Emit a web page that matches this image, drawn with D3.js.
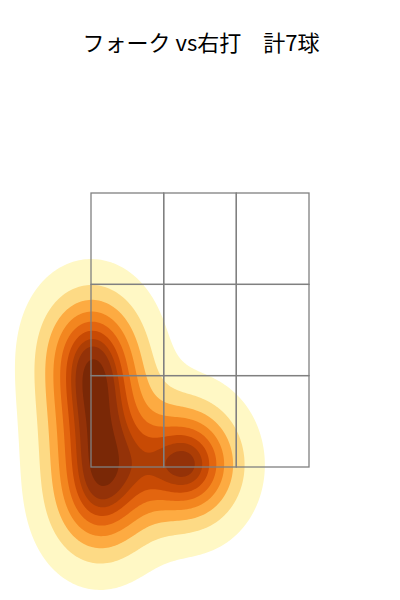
<!DOCTYPE html>
<html>
<head>
<meta charset="utf-8">
<script src="https://cdn.jsdelivr.net/npm/d3@7"></script>
<style>
html,body{margin:0;padding:0;background:#fff;}
svg{display:block;}
</style>
</head>
<body>
<svg id="chart" width="400" height="600"></svg>
<script>
// pitch locations (feet): horizontal plate position and height
const plateX = [-0.86, -0.83, -0.82, -0.79, -0.79, -0.12, -0.08];
const plateZ = [2.46, 2.19, 1.84, 1.48, 1.17, 1.58, 1.48];
// strike zone grid (feet)
const zoneX = [-0.85, -0.283, 0.283, 0.85];
const zoneZ = [1.5, 2.167, 2.833, 3.5];
const title = "フォーク vs右打　計7球";
const isoLevels = d3.range(10).map(i => 0.05 + i * (0.95 / 9));
const bandColors = ["#fff8c5", "#fdda85", "#fdab42", "#f3861f", "#e3650f", "#c84a04", "#ad3e05", "#943208", "#7a2806"];

const W = 400, H = 600;
const svg = d3.select("#chart");
const x = d3.scaleLinear().domain([-0.85, 0.85]).range([91, 309]);
const y = d3.scaleLinear().domain([1.5, 3.5]).range([467, 193]);
const bwX = 0.28, bwZ = 0.305; // kernel bandwidth (feet)

const pts = plateX.map((v, i) => [x(v), y(plateZ[i])]);
const sx = Math.abs(x(bwX) - x(0)), sy = Math.abs(y(bwZ) - y(0));

const cs = 2, gx0 = -200, gy0 = -200;
const gw = Math.ceil((W + 400) / cs), gh = Math.ceil((H + 400) / cs);
const values = new Float64Array(gw * gh);
for (let j = 0; j < gh; j++) {
  const py = gy0 + j * cs;
  for (let i = 0; i < gw; i++) {
    const px = gx0 + i * cs;
    let s = 0;
    for (const [a, b] of pts) {
      const dx = (px - a) / sx, dy = (py - b) / sy;
      s += Math.exp(-0.5 * (dx * dx + dy * dy));
    }
    values[i + j * gw] = s;
  }
}
// iso-proportion levels
const sorted = Array.from(values).sort((a, b) => b - a);
const total = d3.sum(sorted);
const cum = new Float64Array(sorted.length);
let acc = 0;
for (let k = 0; k < sorted.length; k++) { acc += sorted[k]; cum[k] = acc / total; }
const levels = isoLevels.map(q => sorted[Math.min(d3.bisectLeft(cum, 1 - q), sorted.length - 1)]);
const thresholds = levels.slice(0, -1);

const contours = d3.contours().size([gw, gh]).thresholds(thresholds)(values);
const path = d3.geoPath(d3.geoIdentity().scale(cs).translate([gx0, gy0]));
svg.append("g").selectAll("path").data(contours).join("path")
  .attr("d", path)
  .attr("fill", (d, i) => bandColors[i])
  .attr("stroke", "none");

// strike zone cells
const cells = [];
for (let r = 0; r < 3; r++) for (let c = 0; c < 3; c++) cells.push({c, r});
svg.append("g").selectAll("rect").data(cells).join("rect")
  .attr("x", d => x(zoneX[d.c]))
  .attr("y", d => y(zoneZ[d.r + 1]))
  .attr("width", d => x(zoneX[d.c + 1]) - x(zoneX[d.c]))
  .attr("height", d => y(zoneZ[d.r]) - y(zoneZ[d.r + 1]))
  .attr("fill", "none")
  .attr("stroke", "#808080")
  .attr("stroke-width", 1.3);

svg.append("text")
  .attr("x", 201).attr("y", 51)
  .attr("text-anchor", "middle")
  .attr("font-family", "'Noto Sans CJK JP', 'Noto Sans', sans-serif")
  .attr("font-size", 22)
  .attr("fill", "#000")
  .text(title);
</script>
</body>
</html>
